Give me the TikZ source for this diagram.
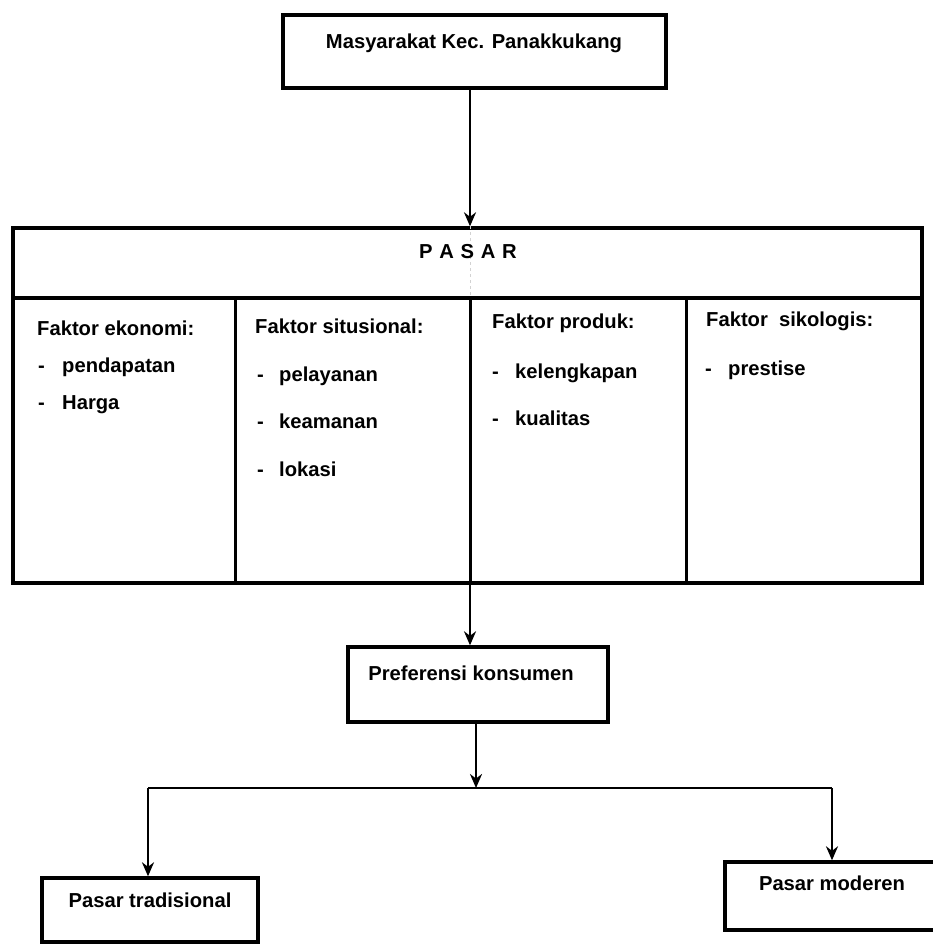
\documentclass[tikz,border=0pt]{standalone}
\usepackage{fontspec}
\setmainfont{Liberation Sans}
\usetikzlibrary{arrows.meta}
\begin{document}
\begin{tikzpicture}[x=1pt,y=-1pt,
  box/.style={draw, line width=3.4pt, inner sep=0pt},
  lbl/.style={font=\bfseries\fontsize{20.2}{24}\selectfont, inner sep=0pt, text height=15pt, text depth=4pt},
  item/.style={lbl, anchor=west},
  conn/.style={line width=2.7pt},
  arr/.style={conn, -{Stealth[length=14pt,width=12pt]}}]
\useasboundingbox[fill=white] (0,0) rectangle (932,945);
% boxes
\node[box, minimum width=383pt, minimum height=73pt] (top) at (474.5,51.5) {};
\node[box, minimum width=909pt, minimum height=355pt] (pasar) at (467.5,405.5) {};
\node[box, minimum width=260pt, minimum height=75pt] (pref) at (478,684.5) {};
\node[box, minimum width=216pt, minimum height=64pt] (trad) at (150,910) {};
\node[box, minimum width=220pt, minimum height=68pt] (mod) at (835,896) {};
% helper coordinates
\coordinate (axis) at (470,0);
\coordinate (ax2) at (476,0);
\coordinate (hl) at (0,298);
\coordinate (d1) at (235,298);
\coordinate (d2) at (470,298);
\coordinate (d3) at (686,298);
\coordinate (split) at (476,788);
\coordinate (L) at (148,788);
\coordinate (R) at (832,788);
% inner lines of PASAR
\draw[line width=3.4pt] (pasar.west |- hl) -- (pasar.east |- hl);
\draw[line width=3pt] (d1) -- (d1 |- pasar.south);
\draw[line width=3pt] (d2) -- (d2 |- pasar.south);
\draw[line width=3pt] (d3) -- (d3 |- pasar.south);
\draw[gray!35, line width=1pt, dashed] (pasar.north -| axis) -- (hl -| axis);
% connectors
\draw[arr] (top.south -| axis) -- (pasar.north -| axis);
\draw[arr] (pasar.south -| axis) -- (pref.north -| axis);
\draw[arr] (pref.south -| ax2) -- (split);
\draw[conn] (L) -- (R);
\draw[arr] (L) -- (L |- trad.north);
\draw[arr] (R) -- (R |- mod.north);
% texts
\node[lbl] (ttop) at (474,43) {Masyarakat Kec. Panakkukang};
\node[lbl] (tpasar) at (468,253) {P\,\,A\,\,S\,\,A\,\,R};
\node[lbl] (tpref) at (471,675) {Preferensi konsumen};
\node[lbl] (ttrad) at (150,902) {Pasar tradisional};
\node[lbl] (tmod) at (832,885) {Pasar moderen};
% column 1
\node[item] (e0) at (37,330) {Faktor ekonomi:};
\node[item] (e1) at (38,367) {\makebox[24pt][l]{-}pendapatan};
\node[item] (e2) at (38,404) {\makebox[24pt][l]{-}Harga};
% column 2
\node[item] (s0) at (255,328) {Faktor situsional:};
\node[item] (s1) at (257,376) {\makebox[22pt][l]{-}pelayanan};
\node[item] (s2) at (257,423) {\makebox[22pt][l]{-}keamanan};
\node[item] (s3) at (257,471) {\makebox[22pt][l]{-}lokasi};
% column 3
\node[item] (p0) at (492,323) {Faktor produk:};
\node[item] (p1) at (492,373) {\makebox[23pt][l]{-}kelengkapan};
\node[item] (p2) at (492,420) {\makebox[23pt][l]{-}kualitas};
% column 4
\node[item] (k0) at (706,321) {Faktor\hspace{0.55em}sikologis:};
\node[item] (k1) at (705,370) {\makebox[23pt][l]{-}prestise};
\end{tikzpicture}
\end{document}
